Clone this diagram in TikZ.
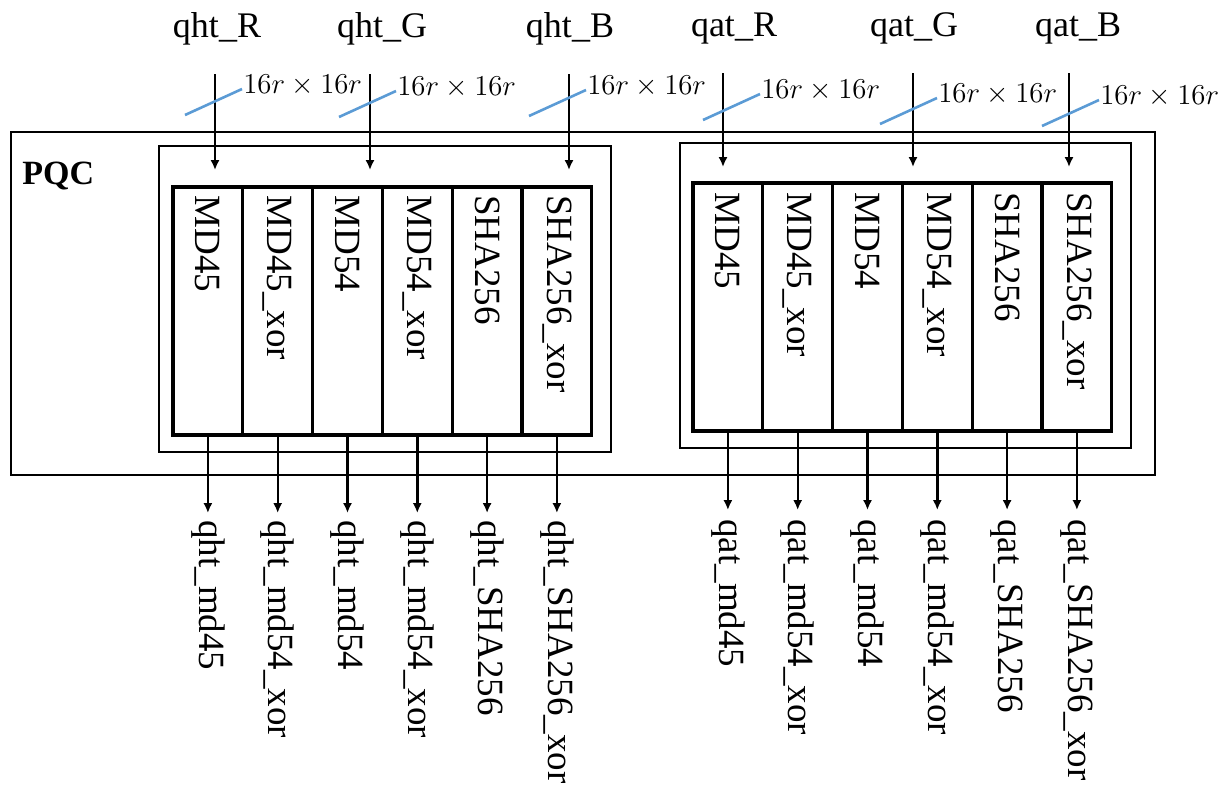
\documentclass[tikz,border=0pt]{standalone}
\usepackage{fontspec}
\setmainfont{Liberation Serif}
\usetikzlibrary{arrows.meta,positioning}
\definecolor{slashblue}{RGB}{91,155,213}
\tikzset{
  modbox/.style={draw,line width=1.6pt,minimum width=34.9pt,minimum height=124pt,inner sep=0pt,outer sep=0pt},
  modtext/.style={rotate=-90,anchor=west,inner sep=0pt,font=\fontsize{18.5}{20}\selectfont},
  intext/.style={anchor=base,inner sep=0pt,font=\fontsize{18}{20}\selectfont},
  sizetext/.style={anchor=base west,inner sep=0.5pt,font=\fontsize{14.5}{16}\selectfont},
  sig/.style={-{Latex[length=5pt,width=4.6pt]},line width=1.2pt},
  slash/.style={slashblue,line width=1.3pt}
}
\begin{document}
\begin{tikzpicture}[x=0.5pt,y=-0.5pt]
  \useasboundingbox (0,0) rectangle (1231,788);
  % outer PQC box
  \draw[line width=1.3pt] (11,132) rectangle (1155,475);
  \node[anchor=base west,inner sep=0pt,font=\bfseries\fontsize{17}{20}\selectfont] (pqc) at (22,184) {PQC};
  % the two groups
  \draw[line width=1.3pt] (159,146) rectangle (611,452);
  \draw[line width=1.3pt] (680,143) rectangle (1131,448);
  % left group modules
  \node[modbox,anchor=north west] (lm1) at (173,187) {};
  \node[modbox,right=0pt of lm1] (lm2) {};
  \node[modbox,right=0pt of lm2] (lm3) {};
  \node[modbox,right=0pt of lm3] (lm4) {};
  \node[modbox,right=0pt of lm4] (lm5) {};
  \node[modbox,right=0pt of lm5] (lm6) {};
  \node[modtext] (lt1) at ([yshift=-4pt]lm1.north) {MD45};
  \node[modtext] (lt2) at ([yshift=-4pt]lm2.north) {MD45\_xor};
  \node[modtext] (lt3) at ([yshift=-4pt]lm3.north) {MD54};
  \node[modtext] (lt4) at ([yshift=-4pt]lm4.north) {MD54\_xor};
  \node[modtext] (lt5) at ([yshift=-4pt]lm5.north) {SHA256};
  \node[modtext] (lt6) at ([yshift=-4pt]lm6.north) {SHA256\_xor};
  % right group modules
  \node[modbox,anchor=north west] (rm1) at (693,183) {};
  \node[modbox,right=0pt of rm1] (rm2) {};
  \node[modbox,right=0pt of rm2] (rm3) {};
  \node[modbox,right=0pt of rm3] (rm4) {};
  \node[modbox,right=0pt of rm4] (rm5) {};
  \node[modbox,right=0pt of rm5] (rm6) {};
  \node[modtext] (rt1) at ([yshift=-4.5pt]rm1.north) {MD45};
  \node[modtext] (rt2) at ([yshift=-4.5pt]rm2.north) {MD45\_xor};
  \node[modtext] (rt3) at ([yshift=-4.5pt]rm3.north) {MD54};
  \node[modtext] (rt4) at ([yshift=-4.5pt]rm4.north) {MD54\_xor};
  \node[modtext] (rt5) at ([yshift=-4.5pt]rm5.north) {SHA256};
  \node[modtext] (rt6) at ([yshift=-4.5pt]rm6.north) {SHA256\_xor};
  % input names
  \node[intext] (qhtR) at (217,37) {qht\_R};
  \node[intext] (qhtG) at (382,37) {qht\_G};
  \node[intext] (qhtB) at (570,37) {qht\_B};
  \node[intext] (qatR) at (734,36) {qat\_R};
  \node[intext] (qatG) at (914,36) {qat\_G};
  \node[intext] (qatB) at (1078,36) {qat\_B};
  % input arrows
  \coordinate (inR) at (215,74);
  \coordinate (inG) at (370,74);
  \coordinate (inB) at (569,74);
  \coordinate (iaR) at (723,73);
  \coordinate (iaG) at (913,73);
  \coordinate (iaB) at (1069,73);
  \draw[sig,shorten >=8.5pt] (inR) -- (inR |- lm1.north);
  \draw[sig,shorten >=8.5pt] (inG) -- (inG |- lm1.north);
  \draw[sig,shorten >=8.5pt] (inB) -- (inB |- lm1.north);
  \draw[sig,shorten >=8pt] (iaR) -- (iaR |- rm1.north);
  \draw[sig,shorten >=8pt] (iaG) -- (iaG |- rm1.north);
  \draw[sig,shorten >=8pt] (iaB) -- (iaB |- rm1.north);
  % bus width marks
  \coordinate (w1) at (242,89);
  \coordinate (w2) at (396,91);
  \coordinate (w3) at (586,90);
  \coordinate (w4) at (760,94);
  \coordinate (w5) at (937,98);
  \coordinate (w6) at (1099,100);
  \draw[slash] (w1) -- ++(-57,26);
  \draw[slash] (w2) -- ++(-57,26);
  \draw[slash] (w3) -- ++(-57,26);
  \draw[slash] (w4) -- ++(-57,26);
  \draw[slash] (w5) -- ++(-57,26);
  \draw[slash] (w6) -- ++(-57,26);
  \node[sizetext] (d1) at ([yshift=-2pt]w1) {$16r\times16r$};
  \node[sizetext] (d2) at ([yshift=-2pt]w2) {$16r\times16r$};
  \node[sizetext] (d3) at ([yshift=-2pt]w3) {$16r\times16r$};
  \node[sizetext] (d4) at ([yshift=-2pt]w4) {$16r\times16r$};
  \node[sizetext] (d5) at ([yshift=-2pt]w5) {$16r\times16r$};
  \node[sizetext] (d6) at ([yshift=-2pt]w6) {$16r\times16r$};
  % outputs, left group
  \node[modtext] (lo1) at ([yshift=-42.5pt]lm1.south) {qht\_md45};
  \node[modtext] (lo2) at ([yshift=-42.5pt]lm2.south) {qht\_md54\_xor};
  \node[modtext] (lo3) at ([yshift=-42.5pt]lm3.south) {qht\_md54};
  \node[modtext] (lo4) at ([yshift=-42.5pt]lm4.south) {qht\_md54\_xor};
  \node[modtext] (lo5) at ([yshift=-42.5pt]lm5.south) {qht\_SHA256};
  \node[modtext] (lo6) at ([yshift=-42.5pt]lm6.south) {qht\_SHA256\_xor};
  \draw[sig,shorten >=3.5pt] (lm1.south) -- (lo1.west);
  \draw[sig,shorten >=3.5pt] (lm2.south) -- (lo2.west);
  \draw[sig,shorten >=3.5pt] (lm3.south) -- (lo3.west);
  \draw[sig,shorten >=3.5pt] (lm4.south) -- (lo4.west);
  \draw[sig,shorten >=3.5pt] (lm5.south) -- (lo5.west);
  \draw[sig,shorten >=3.5pt] (lm6.south) -- (lo6.west);
  % outputs, right group
  \node[modtext] (ro1) at ([yshift=-44pt]rm1.south) {qat\_md45};
  \node[modtext] (ro2) at ([yshift=-44pt]rm2.south) {qat\_md54\_xor};
  \node[modtext] (ro3) at ([yshift=-44pt]rm3.south) {qat\_md54};
  \node[modtext] (ro4) at ([yshift=-44pt]rm4.south) {qat\_md54\_xor};
  \node[modtext] (ro5) at ([yshift=-44pt]rm5.south) {qat\_SHA256};
  \node[modtext] (ro6) at ([yshift=-44pt]rm6.south) {qat\_SHA256\_xor};
  \draw[sig,shorten >=4.5pt] (rm1.south) -- (ro1.west);
  \draw[sig,shorten >=4.5pt] (rm2.south) -- (ro2.west);
  \draw[sig,shorten >=4.5pt] (rm3.south) -- (ro3.west);
  \draw[sig,shorten >=4.5pt] (rm4.south) -- (ro4.west);
  \draw[sig,shorten >=4.5pt] (rm5.south) -- (ro5.west);
  \draw[sig,shorten >=4.5pt] (rm6.south) -- (ro6.west);
\end{tikzpicture}
\end{document}
